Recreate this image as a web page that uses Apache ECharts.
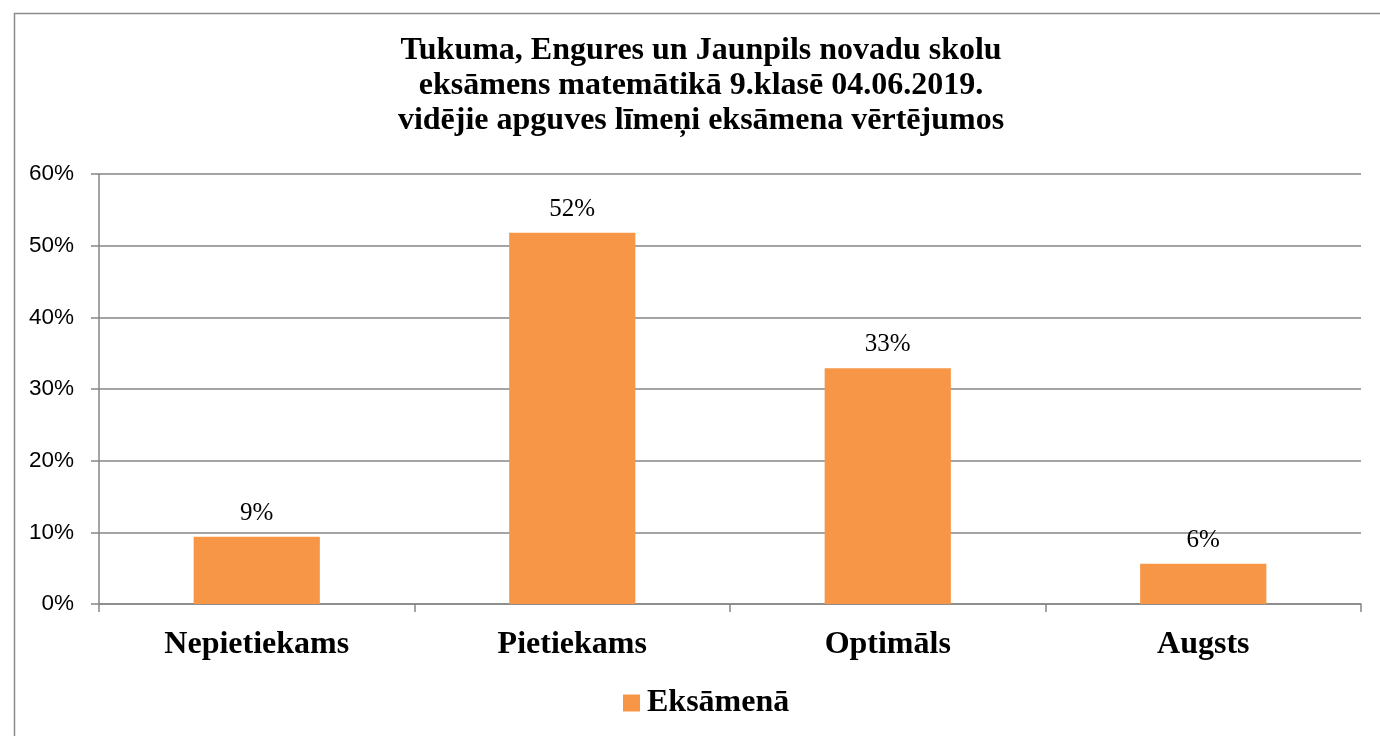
<!DOCTYPE html>
<html>
<head>
<meta charset="utf-8">
<script src="https://cdn.jsdelivr.net/npm/echarts@6/dist/echarts.min.js"></script>
<style>
html,body{margin:0;padding:0;background:#fff;}
#c{width:1380px;height:736px;}
</style>
</head>
<body>
<div id="c"></div>
<script>
const titleLines = ['Tukuma, Engures un Jaunpils novadu skolu', 'eksāmens matemātikā 9.klasē 04.06.2019.', 'vidējie apguves līmeņi eksāmena vērtējumos'];
const categories = ['Nepietiekams', 'Pietiekams', 'Optimāls', 'Augsts'];
const seriesName = 'Eksāmenā';
const values = [9.4, 51.8, 32.9, 5.6];
const valueLabels = ['9%', '52%', '33%', '6%'];
const yTicks = [0, 10, 20, 30, 40, 50, 60];

const chart = echarts.init(document.getElementById('c'), null, {renderer: 'canvas'});
const serif = '"Liberation Serif", "Times New Roman", serif';
const sans = '"Liberation Sans", Arial, sans-serif';
chart.setOption({
  animation: false,
  backgroundColor: '#ffffff',
  graphic: [{
    type: 'rect', left: 12, top: 11, silent: true,
    shape: {width: 1400, height: 760},
    style: {fill: 'none', stroke: '#8c8c8c', lineWidth: 1.5}
  }],
  title: {
    text: titleLines.join('\n'),
    left: 696, top: 28, textAlign: 'center',
    textStyle: {fontFamily: serif, fontWeight: 'bold', fontSize: 32, lineHeight: 35, color: '#000'}
  },
  legend: {
    top: 682, left: 618,
    itemWidth: 17, itemHeight: 17, icon: 'rect',
    textStyle: {fontFamily: serif, fontWeight: 'bold', fontSize: 32, color: '#000', padding: [0, 0, 0, 2]},
    data: [seriesName]
  },
  grid: {left: 99, right: 19, top: 174, bottom: 132, containLabel: false},
  xAxis: {
    type: 'category', data: categories,
    axisLine: {lineStyle: {color: '#868686', width: 1.5}},
    axisTick: {show: true, length: 8, lineStyle: {color: '#868686', width: 1.5}},
    axisLabel: {fontFamily: serif, fontWeight: 'bold', fontSize: 32, color: '#000', margin: 25}
  },
  yAxis: {
    type: 'value', min: 0, max: 60, interval: 10,
    axisLine: {show: true, lineStyle: {color: '#868686', width: 1.5}},
    axisTick: {show: true, length: 8, lineStyle: {color: '#868686', width: 1.5}},
    splitLine: {lineStyle: {color: '#868686', width: 1.5}},
    axisLabel: {fontFamily: sans, fontSize: 22.5, color: '#000', margin: 25,
      formatter: v => yTicks.includes(v) ? v + '%' : ''}
  },
  series: [{
    name: seriesName, type: 'bar', data: values, barWidth: '40%',
    itemStyle: {color: '#F79646'},
    label: {show: true, position: 'top', distance: 11,
      fontFamily: serif, fontSize: 25, color: '#000',
      formatter: p => valueLabels[p.dataIndex]}
  }]
});
</script>
</body>
</html>
